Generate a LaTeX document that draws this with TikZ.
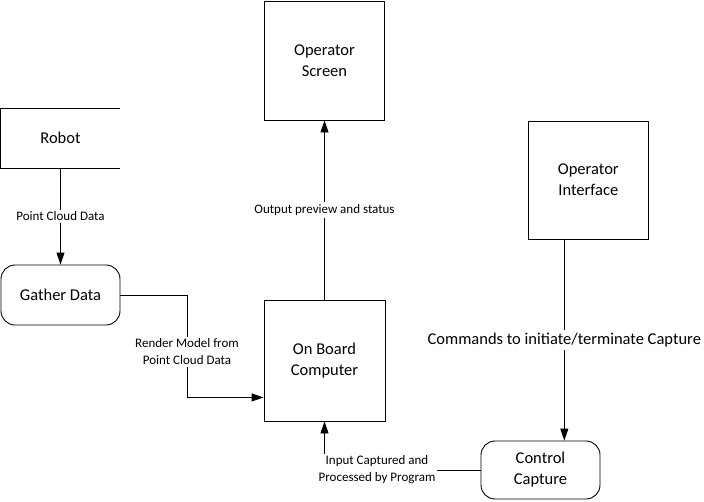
\documentclass[tikz,border=0pt]{standalone}
\usepackage{fontspec}
\setmainfont{Carlito}
\usetikzlibrary{arrows.meta}
\begin{document}
\begin{tikzpicture}[x=1pt,y=-1pt,line width=0.9pt,
  box/.style={draw,rectangle,align=center,inner sep=0pt,font=\fontsize{16.5}{21}\selectfont},
  rbox/.style={box,rounded corners=14pt},
  lbl/.style={fill=white,align=center,inner sep=2pt,font=\fontsize{13}{17}\selectfont},
  biglbl/.style={fill=white,align=center,inner sep=3pt,font=\fontsize{16.5}{18}\selectfont},
  arr/.style={-{Triangle[width=8pt,length=12pt]}}]
\useasboundingbox (0,0) rectangle (704,501);
% nodes
\node[box,draw=none,minimum width=119pt,minimum height=59pt] (robot) at (60.5,138) {Robot};
\draw (robot.north east) -- (robot.north west) -- (robot.south west) -- (robot.south east);
\node[rbox,minimum width=119pt,minimum height=60pt] (gather) at (60.5,295) {Gather Data};
\node[box,minimum width=121pt,minimum height=121pt] (obc) at (324.5,360.5) {On Board\\Computer};
\node[box,minimum width=120pt,minimum height=119pt] (screen) at (324.5,60.5) {Operator\\Screen};
\node[box,minimum width=120pt,minimum height=118pt] (iface) at (588.3,180) {Operator\\Interface};
\node[rbox,minimum width=119pt,minimum height=58pt] (ctrl) at (540.5,470) {Control\\Capture};
% connectors
\draw[arr] (robot.south) -- node[lbl] {Point Cloud Data} (gather.north);
\draw[arr] (obc.north) -- node[lbl] {Output preview and status} (screen.south);
\coordinate (ifout) at ([xshift=-24pt]iface.south);
\draw[arr] (ifout) -- node[biglbl] {Commands to initiate/terminate Capture} (ifout |- ctrl.north);
\draw[arr] (gather.east) -- ++(66.5,0) coordinate (gbend) |- ([yshift=24pt]obc.south west);
\node[lbl] (rlbl) at (187,352) {Render Model from\\Point Cloud Data};
\draw[arr] (ctrl.west) -| (obc.south);
\node[lbl] (ilbl) at (377,470) {Input Captured and\\Processed by Program};
\end{tikzpicture}
\end{document}
